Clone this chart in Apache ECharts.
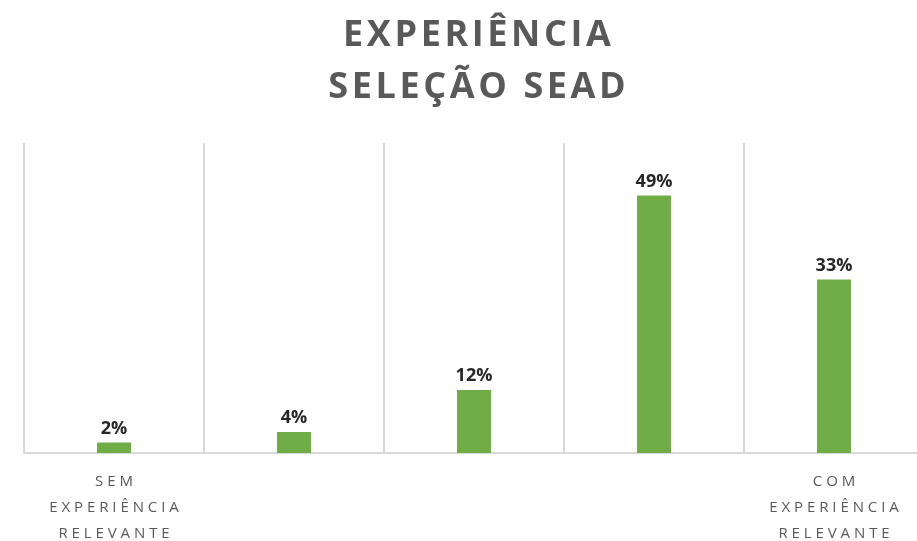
<!DOCTYPE html>
<html>
<head>
<meta charset="utf-8">
<script src="https://cdn.jsdelivr.net/npm/echarts@6/dist/echarts.min.js"></script>
<style>
  html, body { margin: 0; padding: 0; background: #fff; }
  #main { width: 917px; height: 541px; }
</style>
</head>
<body>
<div id="main"></div>
<script>
// dados do gráfico
var categorias = ['SEM\nEXPERIÊNCIA\nRELEVANTE', '', '', '', 'COM\nEXPERIÊNCIA\nRELEVANTE'];
var percentuais = [2, 4, 12, 49, 33];
var tituloLinhas = ['EXPERIÊNCIA', 'SELEÇÃO SEAD'];

// espaçamento entre letras (o canvas não tem letter-spacing)
function espacar(txt, sep) {
    return txt.split('\n').map(function (l) {
        return l.split('').join(sep);
    }).join('\n');
}

var myChart = echarts.init(document.getElementById('main'));
myChart.setOption({
    animation: false,
    title: {
        text: espacar(tituloLinhas.join('\n'), '\u200A'),
        left: 472,
        textAlign: 'center',
        top: 5,
        textStyle: {
            fontFamily: 'Open Sans',
            fontWeight: 'bold',
            fontSize: 36,
            lineHeight: 52,
            color: '#595959'
        }
    },
    grid: {
        left: 24,
        width: 900,
        top: 143,
        height: 310,
        outerBoundsMode: 'none'
    },
    xAxis: {
        type: 'category',
        data: categorias,
        axisLine: { lineStyle: { color: '#d9d9d9', width: 2 } },
        axisTick: { show: false },
        splitLine: { show: true, lineStyle: { color: '#d9d9d9', width: 2 } },
        axisLabel: {
            interval: 0,
            margin: 16,
            fontFamily: 'Open Sans',
            fontSize: 15,
            lineHeight: 26,
            color: '#595959',
            formatter: function (v) { return espacar(v, ' '); }
        }
    },
    yAxis: {
        type: 'value',
        min: 0,
        max: 59,
        show: false
    },
    series: [{
        type: 'bar',
        data: percentuais,
        barWidth: 34,
        itemStyle: { color: '#70ad47' },
        label: {
            show: true,
            position: 'top',
            distance: 5,
            formatter: '{c}%',
            fontFamily: 'Open Sans',
            fontWeight: 'bold',
            fontSize: 18,
            color: '#262626'
        }
    }]
});
</script>
</body>
</html>
